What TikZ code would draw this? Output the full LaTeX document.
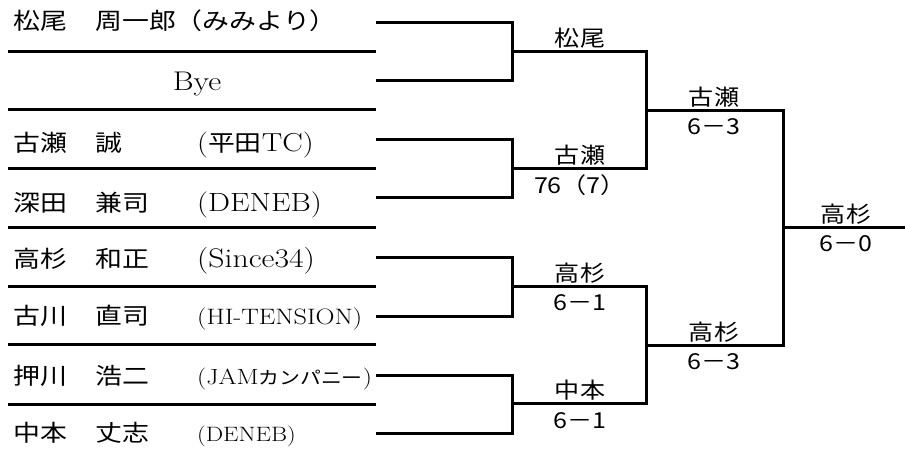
\documentclass[tikz,border=0pt]{standalone}
\usepackage{fontspec}
\setmainfont[FakeStretch=1.18]{Latin Modern Roman}
\newfontfamily\jmfont[FakeStretch=1.17]{Noto Sans CJK JP}
\newfontfamily\jgfont[FakeStretch=1.14]{Noto Sans CJK JP}
\newcommand\cjkt[2]{{\jmfont\fontsize{#1}{#1}\selectfont #2}}
\newcommand\latt[2]{{\rmfamily\fontsize{#1}{#1}\selectfont #2}}
\begin{document}
\begin{tikzpicture}[x=1pt,y=-1pt,
  rule/.style={line width=3pt,black},
  brk/.style={line width=3pt,black,line join=miter},
  namerow/.style={anchor=base west,inner sep=0pt},
  lbl/.style={inner sep=0pt,font=\jgfont\fontsize{22}{22}\selectfont},
  above lbl/.style={lbl,anchor=base},
]
\useasboundingbox (0,0) rectangle (905,461);
% table rules
\foreach \y [count=\i] in {51,109,168,227,286,344,404}{
  \coordinate (ra\i) at (8,\y);
  \coordinate (rb\i) at (376,\y);
  \draw[rule] (ra\i) -- (rb\i);
}
% names
\node[namerow] (n1) at (13,29) {\makebox[82pt][l]{\cjkt{23}{松尾}}\cjkt{23}{周一郎（みみより）}};
\node[anchor=base,inner sep=0pt] (n2) at (197,90) {\latt{27}{Bye}};
\node[namerow] (n3) at (13,151) {\makebox[82pt][l]{\cjkt{23}{古瀬}}\makebox[102pt][l]{\cjkt{23}{誠}}\latt{26}{(}\cjkt{23}{平田}\latt{26}{TC)}};
\node[namerow] (n4) at (13,211) {\makebox[82pt][l]{\cjkt{23}{深田}}\makebox[102pt][l]{\cjkt{23}{兼司}}\latt{26.3}{(DENEB)}};
\node[namerow] (n5) at (13,267) {\makebox[82pt][l]{\cjkt{23}{高杉}}\makebox[102pt][l]{\cjkt{23}{和正}}\latt{26.9}{(Since34)}};
\node[namerow] (n6) at (13,324) {\makebox[82pt][l]{\cjkt{23}{古川}}\makebox[102pt][l]{\cjkt{23}{直司}}\latt{22.3}{(HI-TENSION)}};
\node[namerow] (n7) at (13,384) {\makebox[82pt][l]{\cjkt{23}{押川}}\makebox[102pt][l]{\cjkt{23}{浩二}}\latt{22}{(JAM}\cjkt{17.8}{カンパニー}\latt{22}{)}};
\node[namerow] (n8) at (13,441) {\makebox[82pt][l]{\cjkt{23}{中本}}\makebox[102pt][l]{\cjkt{23}{丈志}}\latt{20.8}{(DENEB)}};
% stubs
\foreach \y [count=\i] in {22,80,139,197,257,316,375,433}{
  \coordinate (s\i) at (376,\y);
}
% round 1
\coordinate (j1) at (512,51);
\coordinate (j2) at (512,168);
\coordinate (j3) at (512,286);
\coordinate (j4) at (512,403);
\coordinate (w1) at (646,51);
\coordinate (w2) at (646,168);
\coordinate (w3) at (646,286);
\coordinate (w4) at (646,403);
\draw[brk] (s1) -| (j1) |- (s2);
\draw[brk] (s3) -| (j2) |- (s4);
\draw[brk] (s5) -| (j3) |- (s6);
\draw[brk] (s7) -| (j4) |- (s8);
% round 2
\coordinate (k1) at (646,110);
\coordinate (k2) at (646,345);
\coordinate (v1) at (783,110);
\coordinate (v2) at (783,345);
\draw[brk] (j1) -- (w1) -- (w2) -- (j2);
\draw[brk] (j3) -- (w3) -- (w4) -- (j4);
% round 3
\coordinate (f1) at (783,227);
\coordinate (f2) at (905,227);
\draw[brk] (k1) -- (v1) -- (v2) -- (k2);
\draw[brk] (f1) -- (f2);
% labels
\node[above lbl] (l1) at (580,46) {松尾};
\node[above lbl] (l2) at (580,163) {古瀬};
\node[above lbl] (l2s) at (580,193) {76（7）};
\node[above lbl] (l3) at (580,281) {高杉};
\node[above lbl] (l3s) at (580,310) {6－1};
\node[above lbl] (l4) at (580,398) {中本};
\node[above lbl] (l4s) at (580,428) {6－1};
\node[above lbl] (m1) at (714,105) {古瀬};
\node[above lbl] (m1s) at (714,134) {6－3};
\node[above lbl] (m2) at (714,340) {高杉};
\node[above lbl] (m2s) at (714,369) {6－3};
\node[above lbl] (fl) at (846,222) {高杉};
\node[above lbl] (fls) at (846,251) {6－0};
\end{tikzpicture}
\end{document}
